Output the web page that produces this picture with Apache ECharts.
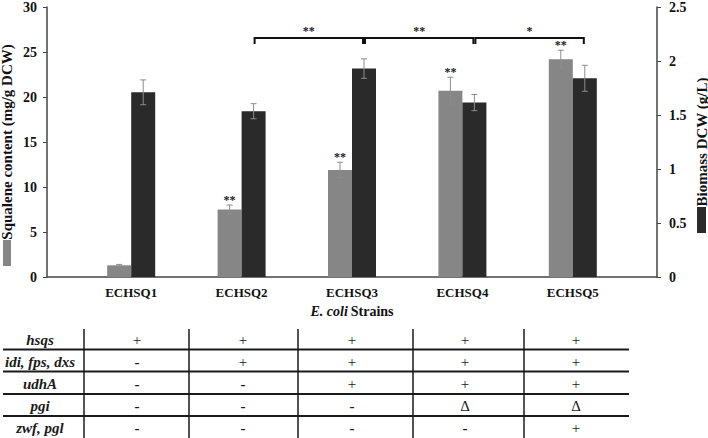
<!DOCTYPE html>
<html><head><meta charset="utf-8">
<script src="https://cdn.jsdelivr.net/npm/echarts@6/dist/echarts.min.js"></script>
<style>html,body{margin:0;padding:0;background:#fff}#c{width:708px;height:438px}</style>
</head><body><div id="c"></div>
<script>
const strains = ['ECHSQ1','ECHSQ2','ECHSQ3','ECHSQ4','ECHSQ5'];
const squalene = [1.3, 7.5, 11.9, 20.7, 24.2];
const squaleneErr = [0.1, 0.5, 0.85, 1.5, 1.0];
const biomass = [1.71, 1.535, 1.93, 1.615, 1.84];
const biomassErr = [0.115, 0.07, 0.09, 0.075, 0.12];
const squaleneSig = ['', '**', '**', '**', '**'];
const comparisons = [[1, 2, '**'], [2, 3, '**'], [3, 4, '*']];
const bracketLevel = 27;
const leftTicks = {min: 0, max: 30, interval: 5};
const rightTicks = {min: 0, max: 2.5, interval: 0.5};
const tableGenes = ['hsqs', 'idi, fps, dxs', 'udhA', 'pgi', 'zwf, pgl'];
const tableMarks = [
  ['+', '+', '+', '+', '+'],
  ['-', '+', '+', '+', '+'],
  ['-', '-', '+', '+', '+'],
  ['-', '-', '-', '\u0394', '\u0394'],
  ['-', '-', '-', '-', '+']
];

const SERIF = 'Liberation Serif';
const GRAY = '#868686', DARK = '#2a2a2a', ERR = '#8c8c8c', INK = '#1a1a1a';
const BW = 24;

function txt(text, x, y, size, weight, style, va) {
  return {type: 'text', x: x, y: y, style: {text: text, fill: INK, fontFamily: SERIF, fontSize: size, fontWeight: weight, fontStyle: style, align: 'center', verticalAlign: va}};
}

function errGroup(api, offset, sig) {
  const i = api.value(0), v = api.value(1), e = api.value(2);
  const x = api.coord([i, v])[0] + offset;
  const yHi = api.coord([i, v + e])[1];
  const yLo = api.coord([i, v - e])[1];
  const st = {stroke: ERR, lineWidth: 1};
  const children = [
    {type: 'line', shape: {x1: x, y1: yHi, x2: x, y2: yLo}, style: st},
    {type: 'line', shape: {x1: x - 3, y1: yHi, x2: x + 3, y2: yHi}, style: st},
    {type: 'line', shape: {x1: x - 3, y1: yLo, x2: x + 3, y2: yLo}, style: st}
  ];
  if (sig) children.push(txt(sig, x, yHi + 1, 12, 'bold', 'normal', 'bottom'));
  return {type: 'group', children: children};
}

const errSqData = squalene.map((v, i) => [i, v, squaleneErr[i]]);
const errBmData = biomass.map((v, i) => [i, v, biomassErr[i]]);

// table graphics
const rowY = [340, 361.5, 384, 406, 428];
const hLineY = [349.5, 371.5, 394, 416];
const vLineX = [84, 189, 298, 413, 524];
const colX = [137, 243, 352, 465, 576];
const graphics = [];
hLineY.forEach(y => graphics.push({type: 'line', shape: {x1: 3, y1: y, x2: 629, y2: y}, style: {stroke: '#1a1a1a', lineWidth: 2}}));
vLineX.forEach(x => graphics.push({type: 'line', shape: {x1: x, y1: 329, x2: x, y2: 438}, style: {stroke: '#1a1a1a', lineWidth: 1.5}}));
tableGenes.forEach((g, r) => {
  graphics.push(txt(g, 40, rowY[r], 15, 'bold', 'italic', 'middle'));
  tableMarks[r].forEach((m, c) => {
    graphics.push(txt(m, colX[c], rowY[r], 15, m === '-' ? 'bold' : 'normal', 'normal', 'middle'));
  });
});

const axisLabelStyle = {color: '#111', fontFamily: SERIF, fontWeight: 'bold', fontSize: 14, lineHeight: 12};

const chart = echarts.init(document.getElementById('c'), null, {renderer: 'svg'});
chart.setOption({
  animation: false,
  textStyle: {fontFamily: SERIF},
  grid: [
    {left: 47, right: 51, top: 7, bottom: 161, outerBoundsMode: 'none', containLabel: false},
    {left: 76, right: 80, top: 7, bottom: 161, outerBoundsMode: 'none', containLabel: false}
  ],
  legend: [
    {data: ['Squalene content'], left: 3, top: 240, orient: 'vertical', padding: 0, itemWidth: 8, itemHeight: 26, icon: 'rect', formatter: () => '', selectedMode: false, itemGap: 0},
    {data: ['Biomass DCW'], left: 697, top: 207, orient: 'vertical', padding: 0, itemWidth: 9, itemHeight: 26, icon: 'rect', formatter: () => '', selectedMode: false, itemGap: 0}
  ],
  xAxis: [
    {type: 'value', gridIndex: 0, min: 0, max: 1, axisLine: {show: true, lineStyle: {color: '#444', width: 1.5}}, axisTick: {show: false}, axisLabel: {show: false}, splitLine: {show: false}},
    {type: 'category', gridIndex: 1, data: strains, axisLine: {show: false}, axisTick: {show: false},
      axisLabel: {margin: 9, color: '#111', fontFamily: SERIF, fontWeight: 'bold', fontSize: 13},
      name: '{i|E. coli} {b|Strains}', nameLocation: 'middle', nameGap: 27, nameMoveOverlap: false,
      nameTextStyle: {rich: {i: {fontFamily: SERIF, fontStyle: 'italic', fontWeight: 'bold', fontSize: 14, color: '#111'}, b: {fontFamily: SERIF, fontWeight: 'bold', fontSize: 14, color: '#111'}}}}
  ],
  yAxis: [
    {type: 'value', gridIndex: 0, position: 'left', min: leftTicks.min, max: leftTicks.max, interval: leftTicks.interval,
      axisLine: {show: true, lineStyle: {color: '#444', width: 1.5}}, axisTick: {show: true, length: 4, lineStyle: {color: '#444'}},
      splitLine: {show: false}, axisLabel: Object.assign({margin: 10}, axisLabelStyle),
      name: 'Squalene content (mg/g DCW)', nameLocation: 'middle', nameGap: 33, nameRotate: 90, nameMoveOverlap: false,
      nameTextStyle: {fontFamily: SERIF, fontWeight: 'bold', fontSize: 15, color: '#111'}},
    {type: 'value', gridIndex: 0, position: 'right', min: rightTicks.min, max: rightTicks.max, interval: rightTicks.interval,
      axisLine: {show: true, lineStyle: {color: '#444', width: 1.5}}, axisTick: {show: true, length: 4, lineStyle: {color: '#444'}},
      splitLine: {show: false}, axisLabel: Object.assign({margin: 12}, axisLabelStyle),
      name: 'Biomass DCW (g/L)', nameLocation: 'middle', nameGap: 37, nameRotate: 90, nameMoveOverlap: false,
      nameTextStyle: {fontFamily: SERIF, fontWeight: 'bold', fontSize: 15, color: '#111'}},
    {type: 'value', gridIndex: 1, show: false, min: leftTicks.min, max: leftTicks.max, interval: leftTicks.interval, splitLine: {show: false}},
    {type: 'value', gridIndex: 1, show: false, min: rightTicks.min, max: rightTicks.max, interval: rightTicks.interval, splitLine: {show: false}}
  ],
  series: [
    {name: 'Squalene content', type: 'bar', xAxisIndex: 1, yAxisIndex: 2, data: squalene, barWidth: BW, barGap: '0%', itemStyle: {color: GRAY}},
    {name: 'Biomass DCW', type: 'bar', xAxisIndex: 1, yAxisIndex: 3, data: biomass, barWidth: BW, barGap: '0%', itemStyle: {color: DARK}},
    {type: 'custom', xAxisIndex: 1, yAxisIndex: 2, z: 5, silent: true, itemStyle: {color: INK},
      renderItem: (p, api) => errGroup(api, -BW / 2, squaleneSig[p.dataIndex]),
      data: errSqData, encode: {x: 0, y: 1}},
    {type: 'custom', xAxisIndex: 1, yAxisIndex: 3, z: 5, silent: true, itemStyle: {color: INK},
      renderItem: (p, api) => errGroup(api, BW / 2, ''),
      data: errBmData, encode: {x: 0, y: 1}},
    {type: 'custom', xAxisIndex: 1, yAxisIndex: 2, z: 5, silent: true, itemStyle: {color: INK},
      data: comparisons.map(c => [c[0], bracketLevel, c[1]]), encode: {x: 0, y: 1},
      renderItem: function (p, api) {
        const a = api.value(0), lv = api.value(1), b = api.value(2);
        const pa = api.coord([a, lv]), pb = api.coord([b, lv]);
        const xa = pa[0] + BW / 2 + 1, xb = pb[0] + BW / 2 - 1;
        const y = pa[1] + 4;
        const st = {stroke: '#111', lineWidth: 2, fill: null};
        return {type: 'group', children: [
          {type: 'polyline', shape: {points: [[xa, y + 6], [xa, y], [xb, y], [xb, y + 6]]}, style: st},
          txt(comparisons[p.dataIndex][2], (xa + xb) / 2, y - 1, 12, 'bold', 'normal', 'bottom')
        ]};
      }}
  ],
  graphic: graphics
});
</script></body></html>
